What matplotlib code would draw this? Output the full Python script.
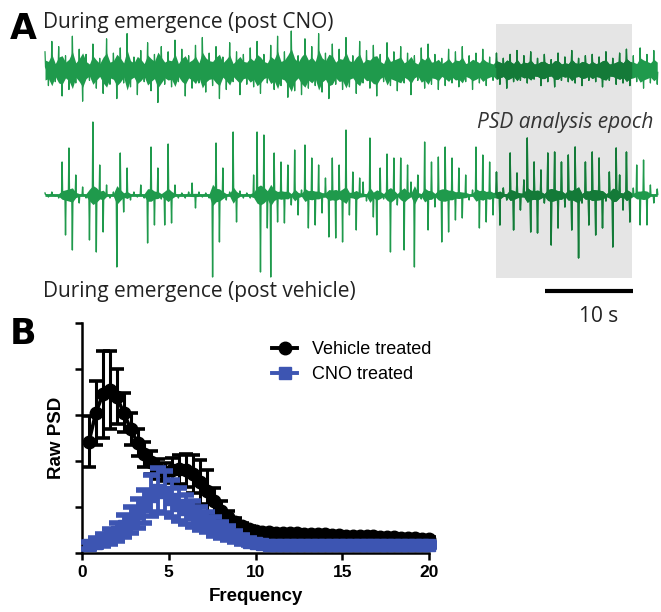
import numpy as np
import matplotlib.pyplot as plt
from matplotlib.lines import Line2D
from matplotlib.patches import Rectangle

W, H = 661, 612

# ---------------- panel A : EEG traces ----------------
# successive peak excursions (arbitrary units, up = positive),
# one every sample_dt s
sample_dt = 0.39
cno_trace = [
    14, -12, 22, -9, 18, -20, 11, -15, 26, -10, 16, -24, 12, -8, 20, -14, 9, -18, 24, -11,
    13, -22, 17, -10, 28, -13, 10, -19, 15, -9, 21, -16, 12, -25, 18, -11, 14, -13, 23, -9,
    16, -20, 11, -14, 19, -10, 25, -17, 13, -12, 18, -22, 10, -15, 21, -9, 14, -19, 12, -11,
    17, -13, 22, -18, 12, -10, 19, -15, 26, -12, 14, -21, 30, -16, 11, -19, 24, -14, 18, -12,
    28, -17, 13, -22, 20, -11, 16, -15, 25, -13, 11, -18, 22, -10, 15, -14, 19, -20, 12, -9,
    21, -12, 14, -16, 18, -10, 13, -19, 11, -8, 17, -14, 20, -11, 12, -15, 9, -12, 16, -10,
    14, -13, 18, -9, 11, -15, 13, -10, 16, -12, 10, -8, 13, -11, 9, -14, 12, -9, 15, -8,
    11, -10, 14, -7, 9, -12, 12, -9, 8, -13, 13, -8, 10, -9, 15, -10, 9, -12, 11, -8,
    12, -9, 10, -13, 14, -8, 9, -11, 13, -10, 16, -12, 11, -9, 17, -14, 12, -10, 15, -11,
]
veh_trace = [
    2, -2, 3, -1, -3, 33, -40, 47, -55, 20, -8, 8, -3, -45, 73, -57, 30, -37, 10, -3,
    3, -72, 42, -17, 27, -5, 3, -2, 10, -3, -48, 48, -30, 27, -4, -30, 51, -28, 10, -3,
    2, -3, 3, 12, -13, 3, -2, 2, -3, -82, 52, -47, 27, -5, 3, 63, -27, 4, -3, 2,
    -3, 20, 63, -77, 60, -33, -82, 42, -27, 33, -28, 30, -10, 45, -20, 5, 50, -33, 37, -30,
    30, -18, 17, -42, 37, -43, 30, -47, 65, -20, 23, -35, 17, 13, -6, 57, -22, -40, 27, -4,
    41, -57, 37, -10, 37, -55, 30, 13, -72, 20, -4, 53, -35, 33, -12, 38, -47, 48, -37, 37,
    -25, 27, -23, 20, -5, 5, 48, -33, 40, -27, 33, -20, 23, -30, 7, -5, 42, -35, 22, -15,
    15, 57, -37, 33, -38, 25, -8, 42, -50, 43, -33, 33, -12, 40, -35, 48, -63, -8, 33, -30,
    43, -40, 37, -33, -6, 23, -52, 47, 20, -15, 43, -27, 7, 30, -30, 35, -30, 10, -8, 6,
]
cno_center, veh_center = 70, 195      # px from top
cno_gain, veh_gain = 1.3, 1.0         # px per trace unit
epoch = (51.4, 66.9)                  # s, PSD analysis epoch
scale_bar = (57.0, 67.0)              # s
px_per_s = 8.77
trace_x0 = 45

# ---------------- panel B : PSD ----------------
freq = [round(0.4 * k, 1) for k in range(1, 51)]
veh_psd = [2.42, 3.05, 3.45, 3.55, 3.40, 3.05, 2.70, 2.40, 2.15, 1.97,
           1.83, 1.76, 1.80, 1.82, 1.80, 1.72, 1.55, 1.35, 1.12, 0.92,
           0.78, 0.67, 0.58, 0.52, 0.48, 0.46, 0.45, 0.44, 0.44, 0.43,
           0.43, 0.42, 0.42, 0.41, 0.41, 0.40, 0.39, 0.38, 0.37, 0.37,
           0.36, 0.36, 0.35, 0.34, 0.34, 0.33, 0.33, 0.32, 0.31, 0.30]
veh_sem = [0.55, 0.70, 0.95, 0.85, 0.60, 0.42, 0.35, 0.30, 0.27, 0.25,
           0.22, 0.20, 0.27, 0.32, 0.36, 0.42, 0.48, 0.45, 0.30, 0.20,
           0.14, 0.10, 0.08, 0.06, 0.05, 0.04, 0.04, 0.04, 0.04, 0.04,
           0.04, 0.04, 0.04, 0.04, 0.04, 0.04, 0.04, 0.04, 0.04, 0.04,
           0.04, 0.04, 0.04, 0.04, 0.04, 0.04, 0.04, 0.04, 0.04, 0.04]
cno_psd = [0.17, 0.22, 0.29, 0.36, 0.46, 0.58, 0.72, 0.86, 1.02, 1.25,
           1.37, 1.32, 1.18, 1.05, 0.95, 0.85, 0.76, 0.67, 0.58, 0.50,
           0.43, 0.36, 0.30, 0.25, 0.21, 0.19, 0.18, 0.18, 0.18, 0.18,
           0.18, 0.18, 0.18, 0.18, 0.18, 0.18, 0.18, 0.18, 0.18, 0.17,
           0.17, 0.17, 0.17, 0.17, 0.17, 0.17, 0.17, 0.17, 0.17, 0.17]
cno_sem = [0.08, 0.10, 0.13, 0.16, 0.20, 0.24, 0.28, 0.32, 0.36, 0.45,
           0.47, 0.46, 0.40, 0.36, 0.32, 0.28, 0.25, 0.22, 0.20, 0.17,
           0.15, 0.12, 0.10, 0.08, 0.06, 0.05, 0.04, 0.04, 0.04, 0.04,
           0.04, 0.04, 0.04, 0.04, 0.04, 0.04, 0.04, 0.04, 0.04, 0.04,
           0.04, 0.04, 0.04, 0.04, 0.04, 0.04, 0.04, 0.04, 0.04, 0.04]

green = '#1f9a4c'
green_dark = '#147a38'
blue = '#3d55b2'

fig = plt.figure(figsize=(W / 100, H / 100), dpi=100)


def fx(px):
    return px / W


def fy(py):
    return 1 - py / H


# panel A axes: x in seconds, y in px from top
axA = fig.add_axes([0, fy(300), 1, 300 / H])
axA.set_xlim(-trace_x0 / px_per_s, (W - trace_x0) / px_per_s)
axA.set_ylim(300, 0)
axA.axis('off')

axA.add_patch(Rectangle((epoch[0], 24), epoch[1] - epoch[0], 254,
                        facecolor='#e5e5e5', edgecolor='none', zorder=0))


def draw_trace(vals, center, gain, core_frac, core_min, lw, col, t_lo, t_hi, z):
    v = np.array(vals, dtype=float) * gain
    t = np.arange(len(v)) * sample_dt
    keep = (t >= t_lo - sample_dt) & (t <= t_hi + sample_dt)
    v, t = v[keep], t[keep]
    # each excursion drawn as a narrow spike off a filled running core
    d = 0.06
    tt = np.column_stack([t - d, t, t + d]).ravel()
    core = np.maximum(np.abs(v) * core_frac, core_min)
    base = center - np.sign(v) * core * 0.3
    yy = np.column_stack([base, center - v, base]).ravel()
    tc = np.clip(t, t_lo, t_hi)
    axA.fill_between(tc, center - core, center + core, color=col, lw=0, zorder=z)
    m = (tt >= t_lo) & (tt <= t_hi)
    axA.plot(tt[m], yy[m], color=col, lw=lw, zorder=z + 1)


t_end = (W - trace_x0) / px_per_s + 1
for col, lo, hi, z in [(green, 0, t_end, 1), (green_dark, epoch[0], epoch[1], 3)]:
    draw_trace(cno_trace, cno_center, cno_gain, 0.55, 6, 0.9, col, lo, hi, z)
    draw_trace(veh_trace, veh_center, veh_gain, 0.13, 1.4, 1.0, col, lo, hi, z)

axA.plot(scale_bar, [290.5, 290.5], color='black', lw=3, solid_capstyle='butt')

txt = dict(family='Open Sans', fontsize=15, color='#222222')
fig.text(fx(43), fy(28), 'During emergence (post CNO)', va='baseline', **txt)
fig.text(fx(43), fy(297), 'During emergence (post vehicle)', va='baseline', **txt)
fig.text(fx(477), fy(128), 'PSD analysis epoch', va='baseline', style='italic',
         family='Open Sans', fontsize=15, color='#333333')
fig.text(fx(599), fy(322), '10 s', ha='center', va='baseline', **txt)
fig.text(fx(10), fy(39), 'A', va='baseline', family='DejaVu Sans',
         fontweight='bold', fontsize=25)
fig.text(fx(10), fy(344), 'B', va='baseline', family='DejaVu Sans',
         fontweight='bold', fontsize=25)

# panel B
axB = fig.add_axes([fx(82), fy(553), (429 - 82) / W, 230 / H])
axB.errorbar(freq, veh_psd, yerr=veh_sem, color='black', marker='o', ms=9,
             lw=2.6, elinewidth=2.2, capsize=4.8, capthick=2.6, zorder=3, clip_on=False)
axB.errorbar(freq, cno_psd, yerr=cno_sem, color=blue, marker='s', ms=8,
             lw=2.6, elinewidth=2.8, capsize=6, capthick=4, zorder=4, clip_on=False)

axB.set_xlim(0, 20)
axB.set_ylim(0, 5)
axB.set_xticks([0, 5, 10, 15, 20])
axB.set_yticks([0, 1, 2, 3, 4, 5])
axB.set_yticklabels([])
for s in ['top', 'right']:
    axB.spines[s].set_visible(False)
for s in ['left', 'bottom']:
    axB.spines[s].set_linewidth(1.8)
axB.tick_params(width=1.8, length=5, direction='out')
for lab in axB.get_xticklabels():
    lab.set_family('Liberation Sans')
    lab.set_fontweight('bold')
    lab.set_fontsize(12.5)
axB.set_xlabel('Frequency', family='Liberation Sans', fontweight='bold',
               fontsize=13.5, labelpad=6)
axB.set_ylabel('Raw PSD', family='Liberation Sans', fontweight='bold',
               fontsize=13.5, labelpad=4)

handles = [Line2D([], [], color='black', marker='o', ms=9, lw=2.8),
           Line2D([], [], color=blue, marker='s', ms=8, lw=2.8)]
axB.legend(handles, ['Vehicle treated', 'CNO treated'], loc='upper left',
           bbox_to_anchor=(fx(263), fy(332)), bbox_transform=fig.transFigure,
           frameon=False, prop={'family': 'Liberation Sans', 'size': 13},
           handlelength=1.4, handletextpad=0.8, labelspacing=0.45, borderpad=0)

fig.savefig('out.png', dpi=100)
